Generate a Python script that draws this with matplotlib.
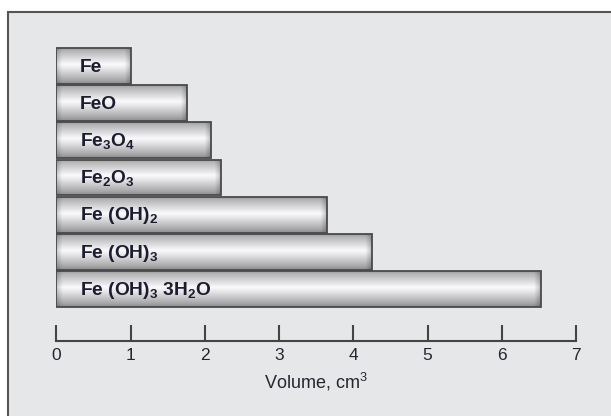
import numpy as np
import matplotlib
matplotlib.use("Agg")
import matplotlib.pyplot as plt
from matplotlib.patches import Rectangle

plt.rcParams['font.family'] = ['Liberation Sans', 'DejaVu Sans']
plt.rcParams['mathtext.fontset'] = 'custom'
plt.rcParams['mathtext.rm'] = 'Liberation Sans'
plt.rcParams['mathtext.bf'] = 'Liberation Sans:bold'

# Data
compounds = ['Fe', 'FeO', r'Fe$_\mathbf{3}$O$_\mathbf{4}$', r'Fe$_\mathbf{2}$O$_\mathbf{3}$',
             r'Fe (OH)$_\mathbf{2}$', r'Fe (OH)$_\mathbf{3}$', r'Fe (OH)$_\mathbf{3}$ 3H$_\mathbf{2}$O']
volumes = [1.0, 1.76, 2.08, 2.21, 3.65, 4.25, 6.53]
xticks = [0, 1, 2, 3, 4, 5, 6, 7]
xlabel = r'Volume, cm$^3$'

W, H = 611, 416
fig = plt.figure(figsize=(W / 100, H / 100), dpi=100)
fig.patch.set_facecolor('white')

# frame panel
fig.patches.append(Rectangle((8 / W, -0.1), 1.2, 1 - 11.5 / H + 0.1, transform=fig.transFigure,
                             facecolor='#e6e7e8', edgecolor='#555555', linewidth=1.5, zorder=-5))

x0_px, x7_px = 56.5, 576
top_px, bot_px = 40, 341
ax = fig.add_axes([x0_px / W, 1 - bot_px / H, (x7_px - x0_px) / W, (bot_px - top_px) / H])
ax.set_zorder(1)
ax.set_facecolor('none')

ypos = np.arange(len(volumes))
bh = 0.965
bars = ax.barh(ypos, volumes, height=bh, color='none', edgecolor='#4a4a4a', linewidth=1.3, zorder=3)

# vertical shading profile
t = np.linspace(0, 1, 100)
knots_t = [0.0, 0.08, 0.45, 0.55, 0.9, 1.0]
knots_v = [0.62, 0.72, 0.99, 0.93, 0.66, 0.55]
v = np.interp(t, knots_t, knots_v)

px_per_unit = (x7_px - x0_px) / 7
for b, val in zip(bars, volumes):
    n = 300
    xs = np.linspace(0, val, n)
    edge = 6 / px_per_unit
    hx = np.ones(n)
    hx = np.minimum(hx, 0.82 + 0.18 * np.clip(xs / edge, 0, 1))
    hx = np.minimum(hx, 0.78 + 0.22 * np.clip((val - xs) / edge, 0, 1))
    img = v[:, None] * hx[None, :]
    rgb = np.dstack([img * 0.99, img * 0.99, img])
    y = b.get_y()
    im = ax.imshow(rgb, extent=(0, val, y + bh, y), aspect='auto', zorder=2,
                   interpolation='bilinear')
    im.set_clip_path(b)

ax.set_xlim(0, 7)
ax.set_ylim(7.395, -0.696)

for yy, name in zip(ypos, compounds):
    ax.text(0.31, yy + 0.03, name, fontsize=13.8, fontweight='bold', color='#1c1c30',
            va='center', ha='left', zorder=4)

for s in ['left', 'right', 'top']:
    ax.spines[s].set_visible(False)
ax.spines['bottom'].set_color('#444444')
ax.spines['bottom'].set_linewidth(1.5)
ax.set_yticks([])
ax.set_xticks(xticks)
ax.set_xticklabels([str(v) for v in xticks])
ax.tick_params(axis='x', direction='in', length=11.5, width=1.5, color='#444444',
               labelsize=12.5, labelcolor='#262630', pad=5)
ax.set_xlabel(xlabel, fontsize=13, color='#262630', labelpad=6)

fig.savefig('out.png', dpi=100)
